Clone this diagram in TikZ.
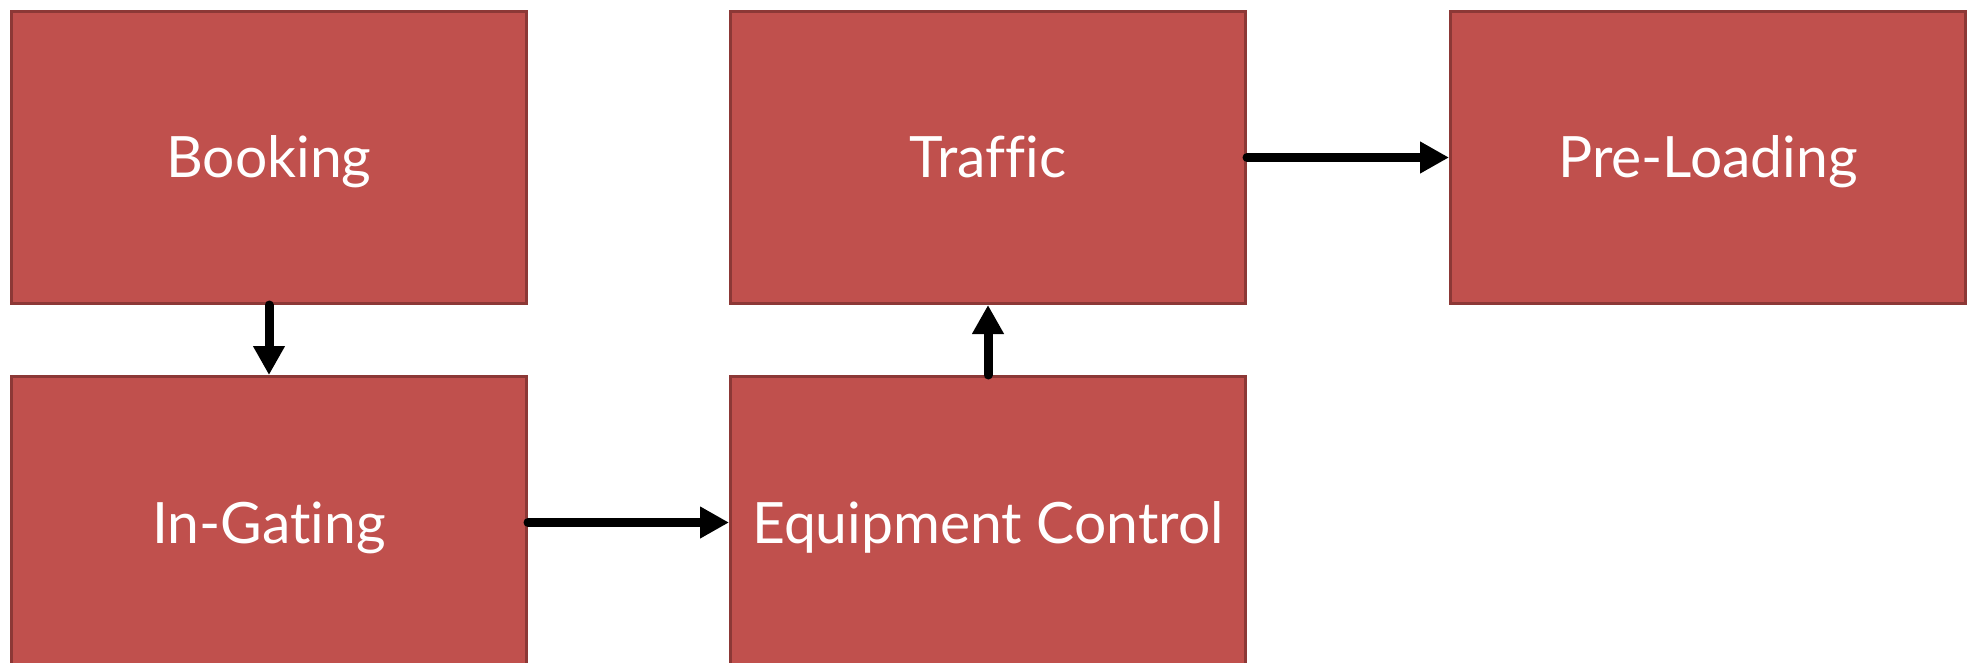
\documentclass[tikz,border=0pt]{standalone}
\usepackage{fontspec}
\setmainfont[RawFeature={-liga}]{Lato}
\usetikzlibrary{arrows.meta}
\definecolor{boxfill}{HTML}{C0504D}
\definecolor{boxline}{HTML}{8C3836}
\begin{document}
\begin{tikzpicture}[x=1pt,y=-1pt,
  stage/.style={draw=boxline, fill=boxfill, line width=3pt,
    minimum width=515pt, minimum height=292pt, inner sep=0pt,
    text height=41pt, text depth=0pt,
    text=white, font=\fontsize{57}{68}\selectfont, anchor=north west},
  flow/.style={line width=9pt, line cap=round,
    -{Triangle[length=29pt,width=30pt]}}]
  \useasboundingbox (0,0) rectangle (1973,663);
  \clip (0,0) rectangle (1973,663);

  % top row
  \node[stage] (book)    at (10,10)   {Booking};
  \node[stage] (traffic) at (729,10)  {Traffic};
  \node[stage] (preload) at (1449,10) {Pre-Loading};
  % bottom row
  \node[stage] (ingate)  at (10,375)  {In-Gating};
  \node[stage] (equip)   at (729,375) {Equipment Control};

  % process flow
  \draw[flow] (book.south)   -- (ingate.north);
  \draw[flow] (ingate.east)  -- (equip.west);
  \draw[flow] (equip.north)  -- (traffic.south);
  \draw[flow] (traffic.east) -- (preload.west);
\end{tikzpicture}
\end{document}
